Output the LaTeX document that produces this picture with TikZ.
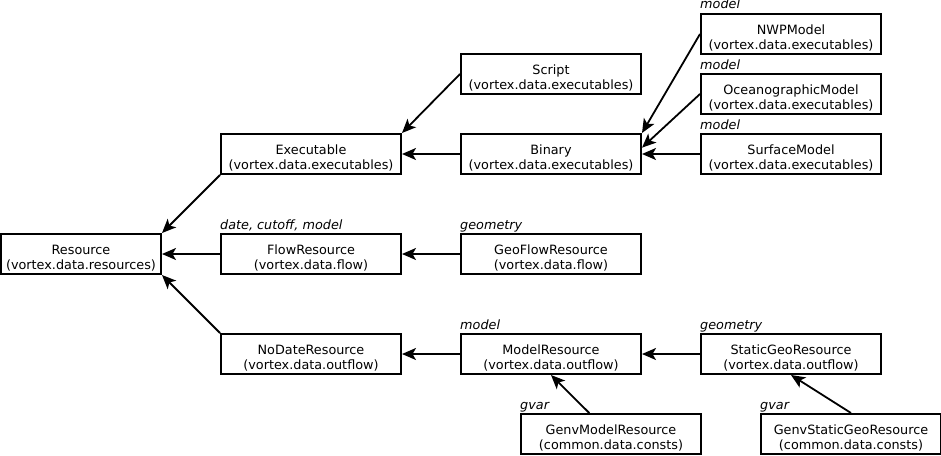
\documentclass[tikz,border=0pt]{standalone}
\usepackage{fontspec}
\setmainfont{DejaVu Sans}
\usetikzlibrary{arrows.meta,calc}
\newcommand{\topstrut}{\rule{0pt}{17.5pt}}
\tikzset{
  cls/.style={draw, line width=2pt, minimum width=180pt, minimum height=40pt, inner sep=0pt, align=center, font=\fontsize{12.8}{15}\selectfont},
  lbl/.style={anchor=base west, inner sep=0pt, yshift=4pt, font=\fontsize{12.8}{15}\selectfont\itshape},
  inh/.style={line width=1.8pt, -{Stealth[length=14pt, width=12pt, inset=3.5pt]}}
}
\begin{document}
\begin{tikzpicture}[x=1pt, y=-1pt]
\useasboundingbox (0,0) rectangle (941,455);
\node[cls, minimum width=160pt] (res) at (81,254) {\topstrut Resource\\(vortex.data.resources)};
\node[cls] (exe) at (311,154) {\topstrut Executable\\(vortex.data.executables)};
\node[cls] (flow) at (311,254) {\topstrut FlowResource\\(vortex.data.flow)};
\node[cls] (nodate) at (311,354) {\topstrut NoDateResource\\(vortex.data.outflow)};
\node[cls] (scr) at (551,74) {\topstrut Script\\(vortex.data.executables)};
\node[cls] (bin) at (551,154) {\topstrut Binary\\(vortex.data.executables)};
\node[cls] (geoflow) at (551,254) {\topstrut GeoFlowResource\\(vortex.data.flow)};
\node[cls] (modres) at (551,354) {\topstrut ModelResource\\(vortex.data.outflow)};
\node[cls] (nwp) at (791,34) {\topstrut NWPModel\\(vortex.data.executables)};
\node[cls] (ocean) at (791,94) {\topstrut OceanographicModel\\(vortex.data.executables)};
\node[cls] (surf) at (791,154) {\topstrut SurfaceModel\\(vortex.data.executables)};
\node[cls] (sgeo) at (791,354) {\topstrut StaticGeoResource\\(vortex.data.outflow)};
\node[cls] (genvm) at (611,434) {\topstrut GenvModelResource\\(common.data.consts)};
\node[cls] (genvs) at (851,434) {\topstrut GenvStaticGeoResource\\(common.data.consts)};

\node[lbl] (l1) at (nwp.north west) {model};
\node[lbl] (l2) at (ocean.north west) {model};
\node[lbl] (l3) at (surf.north west) {model};
\node[lbl] (l4) at (flow.north west) {date, cutoff, model};
\node[lbl] (l5) at (geoflow.north west) {geometry};
\node[lbl] (l6) at (modres.north west) {model};
\node[lbl] (l7) at (sgeo.north west) {geometry};
\node[lbl] (l8) at (genvm.north west) {gvar};
\node[lbl] (l9) at (genvs.north west) {gvar};

\draw[inh] (exe.south west) -- (res.north east);
\draw[inh] (flow.west) -- (res.east);
\draw[inh] (nodate.north west) -- (res.south east);
\draw[inh] (scr.west) -- (exe.north east);
\draw[inh] (bin.west) -- (exe.east);
\draw[inh] (nwp.west) -- (bin.north east);
\draw[inh] (ocean.west) -- (bin.4);
\draw[inh] (surf.west) -- (bin.east);
\draw[inh] (geoflow.west) -- (flow.east);
\draw[inh] (modres.west) -- (nodate.east);
\draw[inh] (sgeo.west) -- (modres.east);
\draw[inh] (genvm.136) -- (modres.south);
\draw[inh] (genvs.north) -- (sgeo.south);
\end{tikzpicture}
\end{document}
